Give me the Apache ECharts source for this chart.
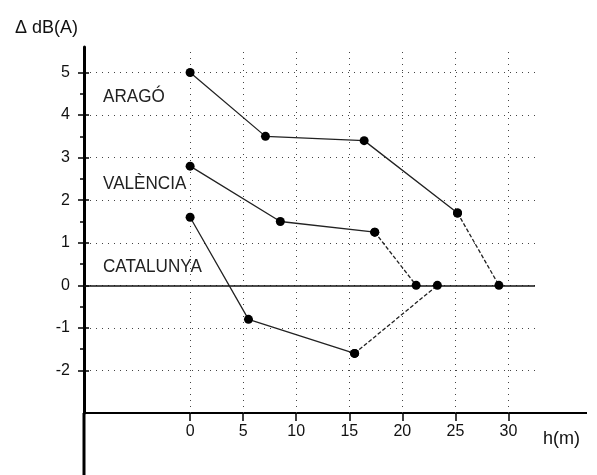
<!DOCTYPE html>
<html><head><meta charset="utf-8">
<script src="https://cdn.jsdelivr.net/npm/echarts@6/dist/echarts.min.js"></script>
<style>html,body{margin:0;padding:0;background:#fff}#c{width:597px;height:475px}</style>
</head><body><div id="c"></div>
<script>
// ---- data ----
const xTicks = [0, 5, 10, 15, 20, 25, 30];
const yTicks = [-2, -1, 0, 1, 2, 3, 4, 5];
const yMajorTicks = [-2, -1, 0, 1, 2, 3, 4, 5];
const yMinorTicks = [-1.5, -0.5, 0.5, 1.5, 2.5, 3.5, 4.5];
const aragoX = [0, 7.1, 16.4, 25.2, 29.1];
const aragoY = [5.0, 3.5, 3.4, 1.7, 0];
const valenciaX = [0, 8.5, 17.4, 21.3];
const valenciaY = [2.8, 1.5, 1.25, 0];
const catalunyaX = [0, 5.5, 15.5, 23.3];
const catalunyaY = [1.6, -0.8, -1.6, 0];
const regionNames = ['ARAGÓ', 'VALÈNCIA', 'CATALUNYA'];
const yTitle = 'Δ dB(A)';
const xTitle = 'h(m)';

const FONT = 'Liberation Sans';
const chart = echarts.init(document.getElementById('c'), null, {renderer: 'canvas'});

function pairs(xs, ys) { return xs.map((x, i) => [x, ys[i]]); }
function regionSeries(xs, ys) {
  const pts = pairs(xs, ys);
  const n = pts.length;
  return [
    {type: 'line', data: pts.slice(0, n - 1), symbol: 'circle', symbolSize: 9, z: 5,
     itemStyle: {color: '#000'}, lineStyle: {color: '#222', width: 1.3}, animation: false},
    {type: 'line', data: pts.slice(n - 2), symbol: 'circle', symbolSize: 9, z: 5,
     itemStyle: {color: '#000'}, lineStyle: {color: '#222', width: 1.3, type: [4, 2]}, animation: false}
  ];
}

const gridDot = {color: '#444', width: 1, type: [1, 5]};
const series = [].concat(
  regionSeries(aragoX, aragoY),
  regionSeries(valenciaX, valenciaY),
  regionSeries(catalunyaX, catalunyaY)
);
// zero line
series.push({type: 'line', data: [], z: 3, markLine: {silent: true, symbol: 'none', label: {show: false},
  lineStyle: {color: '#111', width: 1.5, type: 'solid'}, data: [{yAxis: 0}], animation: false}});
// vertical dotted grid lines at the x ticks
series.push({type: 'line', data: [], z: 1, markLine: {silent: true, symbol: 'none', label: {show: false},
  lineStyle: gridDot, data: xTicks.map(v => ({xAxis: v})), animation: false}});

const option = {
  animation: false,
  backgroundColor: '#fff',
  grid: {left: 84, top: 47, right: 62, bottom: 62},
  xAxis: {
    type: 'value', min: -10, max: 32.5,
    axisLine: {onZero: false, lineStyle: {color: '#000', width: 2}},
    axisTick: {customValues: xTicks, length: 8, lineStyle: {color: '#000', width: 1.5}},
    axisLabel: {customValues: xTicks, margin: 11, fontSize: 16, color: '#111', fontFamily: FONT},
    splitLine: {show: false}
  },
  yAxis: [
    {type: 'value', min: -3, max: 5.6,
     axisLine: {show: true, onZero: false, lineStyle: {color: '#000', width: 3}},
     axisTick: {show: true, customValues: yMajorTicks, length: 6, lineStyle: {color: '#000', width: 1.5}},
     axisLabel: {customValues: yTicks, margin: 14, fontSize: 16, color: '#111', fontFamily: FONT},
     splitLine: {show: true, lineStyle: gridDot}},
    {type: 'value', min: -3, max: 5.6, position: 'left', offset: 0,
     axisLine: {show: false, onZero: false},
     axisTick: {show: true, inside: true, customValues: yMajorTicks, length: 5, lineStyle: {color: '#000', width: 1.5}},
     axisLabel: {show: false}, splitLine: {show: false}},
    {type: 'value', min: -3, max: 5.6, position: 'left', offset: 0,
     axisLine: {show: false, onZero: false},
     axisTick: {show: true, customValues: yMinorTicks, length: 4, lineStyle: {color: '#000', width: 1.5}},
     axisLabel: {show: false}, splitLine: {show: false}}
  ],
  series: series
};
chart.setOption(option);

// decorations: axis extensions and texts
const p0 = chart.convertToPixel({xAxisIndex: 0, yAxisIndex: 0}, [-10, -3]);
const p1 = chart.convertToPixel({xAxisIndex: 0, yAxisIndex: 0}, [32.5, 5.6]);
const lblStyle = {fontSize: 18, fill: '#222', fontFamily: FONT};
chart.setOption({
  graphic: [
    {type: 'line', shape: {x1: p1[0], y1: p0[1], x2: 587, y2: p0[1]}, style: {stroke: '#000', lineWidth: 2}},
    {type: 'line', shape: {x1: p0[0], y1: p0[1], x2: p0[0], y2: 475}, style: {stroke: '#000', lineWidth: 3}},
    {type: 'text', x: 543, y: 430, style: {text: xTitle, fontSize: 18, fill: '#111', fontFamily: FONT}},
    {type: 'text', x: 15, y: 19, style: {text: yTitle, fontSize: 18, fill: '#111', fontFamily: FONT}},
    {type: 'text', x: 103, y: 88, scaleX: 0.95, style: Object.assign({text: regionNames[0]}, lblStyle)},
    {type: 'text', x: 103, y: 175, scaleX: 0.95, style: Object.assign({text: regionNames[1]}, lblStyle)},
    {type: 'text', x: 103, y: 258, scaleX: 0.95, style: Object.assign({text: regionNames[2]}, lblStyle)}
  ]
});
</script>
</body></html>
